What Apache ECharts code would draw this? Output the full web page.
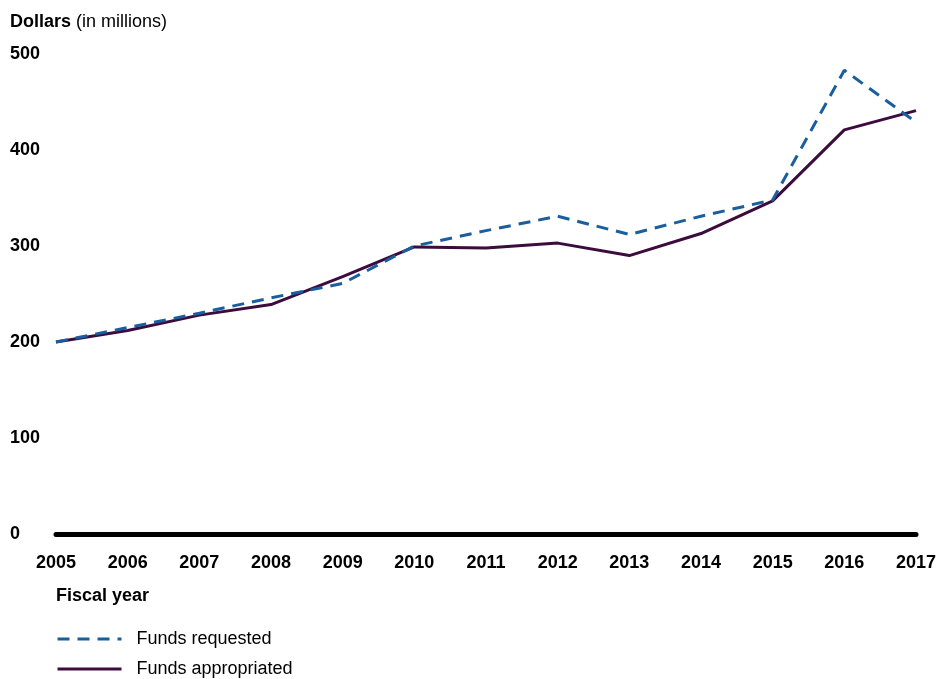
<!DOCTYPE html>
<html>
<head>
<meta charset="utf-8">
<script src="https://cdn.jsdelivr.net/npm/echarts@6/dist/echarts.min.js"></script>
<style>
  html, body { margin: 0; padding: 0; background: #fff; }
  #chart { width: 943px; height: 679px; }
</style>
</head>
<body>
<div id="chart"></div>
<script>
// data
const years = ['2005', '2006', '2007', '2008', '2009', '2010', '2011', '2012', '2013', '2014', '2015', '2016', '2017']
const fundsRequested = [200, 215, 230, 246, 261, 300, 316, 331, 312, 331, 348, 483, 429]
const fundsAppropriated = [200, 212, 228, 239, 268, 299, 298, 303, 290, 313, 347, 421, 441]
const yTicks = [0, 100, 200, 300, 400, 500]

const FONT = 'Liberation Sans, Arial, sans-serif'

const chart = echarts.init(document.getElementById('chart'))

// one legend per row, stacked like the reference
const legendRow = (name, top) => ({
  left: 56,
  top: top,
  padding: 0,
  itemWidth: 64,
  itemHeight: 14,
  itemStyle: { opacity: 0 },
  lineStyle: { width: 3 },
  data: [name],
  textStyle: { fontSize: 18, color: '#000', fontFamily: FONT, padding: [0, 0, 0, 10] }
})

const option = {
  animation: false,
  textStyle: { fontFamily: FONT },
  grid: { left: 56, right: 27, top: 54, bottom: 145, containLabel: false },
  graphic: [
    {
      type: 'text',
      left: 10,
      top: 13,
      style: {
        text: '{b|Dollars} (in millions)',
        rich: {
          b: { fontWeight: 'bold', fontSize: 18, fontFamily: FONT, fill: '#000' }
        },
        fontSize: 18,
        fontFamily: FONT,
        fill: '#000'
      }
    },
    {
      type: 'text',
      left: 56,
      top: 587,
      style: { text: 'Fiscal year', fontWeight: 'bold', fontSize: 18, fontFamily: FONT, fill: '#000' }
    }
  ],
  legend: [
    legendRow('Funds requested', 630),
    legendRow('Funds appropriated', 660)
  ],
  xAxis: {
    type: 'category',
    data: years,
    boundaryGap: false,
    axisLine: { lineStyle: { color: '#000', width: 5 } },
    axisTick: { show: false },
    axisLabel: { color: '#000', fontWeight: 'bold', fontSize: 18, fontFamily: FONT, margin: 20 },
    splitLine: { show: false }
  },
  yAxis: {
    type: 'value',
    min: yTicks[0],
    max: yTicks[yTicks.length - 1],
    interval: 100,
    axisLine: { show: false },
    axisTick: { show: false },
    splitLine: { show: false },
    axisLabel: { color: '#000', fontWeight: 'bold', fontSize: 18, fontFamily: FONT, align: 'left', margin: 46 }
  },
  series: [
    {
      name: 'Funds requested',
      type: 'line',
      data: fundsRequested,
      symbol: 'none',
      z: 3,
      lineStyle: { color: '#1a5e9e', width: 3, type: [12, 8] },
      itemStyle: { color: '#1a5e9e' }
    },
    {
      name: 'Funds appropriated',
      type: 'line',
      data: fundsAppropriated,
      symbol: 'none',
      z: 2,
      lineStyle: { color: '#3b0c3d', width: 3 },
      itemStyle: { color: '#3b0c3d' }
    }
  ]
}

chart.setOption(option)
</script>
</body>
</html>
